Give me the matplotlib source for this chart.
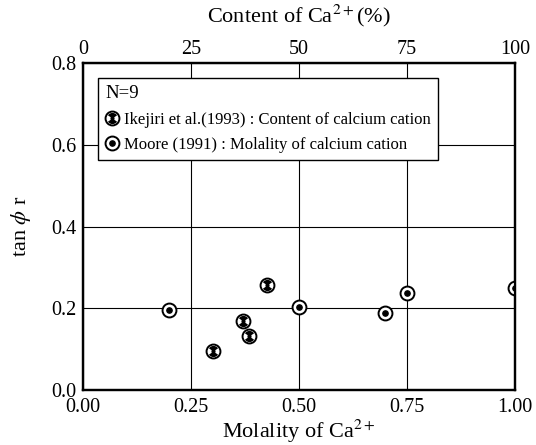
import matplotlib
matplotlib.use("Agg")
import matplotlib.pyplot as plt
from matplotlib.path import Path
from matplotlib.lines import Line2D
from matplotlib.legend_handler import HandlerTuple

plt.rcParams['font.family'] = ['Liberation Serif', 'DejaVu Serif']
plt.rcParams['mathtext.fontset'] = 'stix'

# Data
ike_x = [0.30, 0.37, 0.384, 0.426]
ike_y = [0.095, 0.169, 0.132, 0.257]
moore_x = [0.20, 0.50, 0.70, 0.75, 1.00]
moore_y = [0.195, 0.203, 0.188, 0.237, 0.250]
xticks = [0.00, 0.25, 0.50, 0.75, 1.00]
yticks = [0.0, 0.2, 0.4, 0.6, 0.8]
top_ticks = [0, 25, 50, 75, 100]

w1 = Path.wedge(35, 145)
w2 = Path.wedge(215, 325)
hour = Path.make_compound_path(w1, w2)

fig = plt.figure(figsize=(5.36, 4.45), dpi=100)
ax = fig.add_axes([0.155, 0.1236, 0.806, 0.7344])
ax.set_xlim(0, 1)
ax.set_ylim(0, 0.8)
ax.set_xticks(xticks)
ax.set_xticklabels([f"{v:.2f}" for v in xticks])
ax.set_yticks(yticks)
ax.set_yticklabels([f"{v:.1f}" for v in yticks])
ax.grid(True, color='black', linewidth=0.8)
ax.tick_params(axis='x', length=0, labelsize=14.5, pad=6)
ax.tick_params(axis='y', length=0, labelsize=14.5, pad=5)
for s in ax.spines.values():
    s.set_linewidth(1.6)
ax.set_xlabel("Molality of Ca$^{2+}$", fontsize=16, labelpad=0)
ax.set_ylabel("tan $\\phi$ r", fontsize=16, labelpad=13)

ms = 10
ax.plot(ike_x, ike_y, ls='none', marker='o', ms=ms, mfc='white', mec='black', mew=1.4, zorder=3)
ax.plot(ike_x, ike_y, ls='none', marker=hour, ms=ms*0.8, mfc='black', mec='none', zorder=4)
ax.plot(ike_x, ike_y, ls='none', marker='o', ms=2.0, mfc='black', mec='black', zorder=5)
ax.plot(moore_x, moore_y, ls='none', marker='o', ms=ms, mfc='white', mec='black', mew=1.4, zorder=3)
ax.plot(moore_x, moore_y, ls='none', marker='o', ms=3.8, mfc='black', mec='black', zorder=4)

h1a = Line2D([], [], ls='none', marker='o', ms=ms, mfc='white', mec='black', mew=1.4)
h1b = Line2D([], [], ls='none', marker=hour, ms=ms*0.8, mfc='black', mec='none')
h1c = Line2D([], [], ls='none', marker='o', ms=2.0, mfc='black', mec='black')
h2a = Line2D([], [], ls='none', marker='o', ms=ms, mfc='white', mec='black', mew=1.4)
h2b = Line2D([], [], ls='none', marker='o', ms=3.8, mfc='black', mec='black')
leg = ax.legend([(h1a, h1b, h1c), (h2a, h2b)],
                ["Ikejiri et al.(1993) : Content of calcium cation",
                 "Moore (1991) : Molality of calcium cation"],
                handler_map={tuple: HandlerTuple(ndivide=1)},
                loc='upper left', bbox_to_anchor=(0.035, 0.955), title='N=9',
                alignment='left', fontsize=12, title_fontsize=13.5,
                frameon=True, fancybox=False, edgecolor='black', framealpha=1,
                handlelength=0.8, handletextpad=0.3, borderpad=0.45,
                labelspacing=0.55, borderaxespad=0)
leg.get_frame().set_linewidth(1.0)
leg.set_zorder(10)

ax2 = ax.twiny()
ax2.set_xlim(0, 100)
ax2.set_xticks(top_ticks)
ax2.set_xticklabels([str(v) for v in top_ticks])
ax2.tick_params(length=0, labelsize=14.5, pad=3)
for s in ax2.spines.values():
    s.set_linewidth(1.6)
ax2.set_xlabel("Content of Ca$^{2+}$(%)", fontsize=16, labelpad=13)

fig.savefig("out.png", dpi=100)
